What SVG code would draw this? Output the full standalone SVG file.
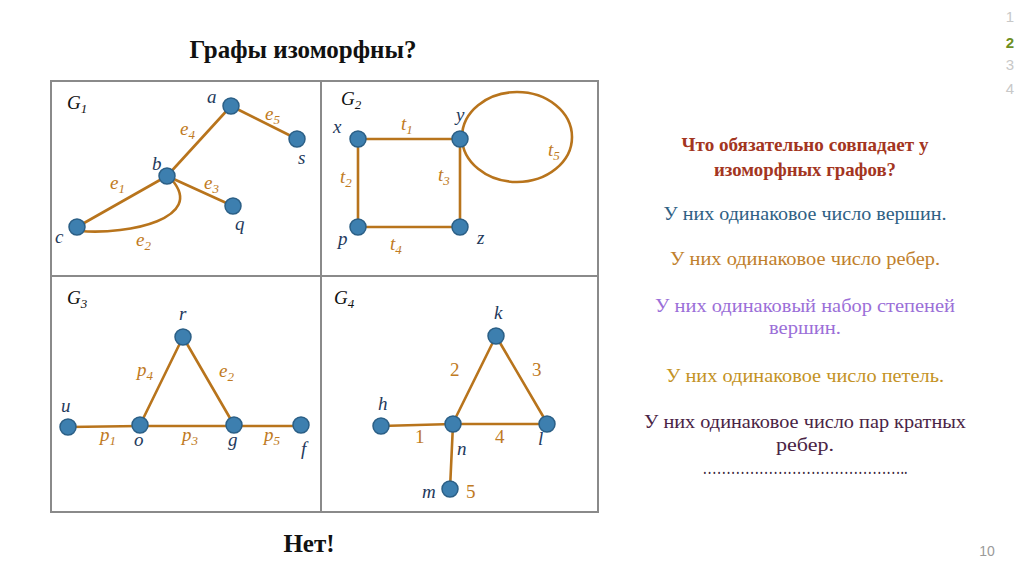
<svg xmlns="http://www.w3.org/2000/svg" width="1024" height="574" viewBox="0 0 1024 574">
<style>
.e{stroke:#B8741C;stroke-width:2.6;fill:none;stroke-linecap:round}
.n{fill:#3D7FAF;stroke:#2B5F86;stroke-width:1.5}
.v{font-family:"Liberation Serif",serif;font-style:italic;font-size:19px;fill:#1F3A5C}
.l{font-family:"Liberation Serif",serif;font-style:italic;font-size:19px;fill:#C07A22}
.d{font-family:"Liberation Serif",serif;font-size:19px;fill:#C07A22}
.g{font-family:"Liberation Serif",serif;font-style:italic;font-size:19px;fill:#111}
.s{font-size:13px}
.t{font-family:"Liberation Serif",serif;font-weight:bold;fill:#111}
.r{font-family:"Liberation Serif",serif;font-size:19px;text-anchor:middle}
.pg{font-family:"Liberation Sans",sans-serif;font-size:15px;text-anchor:middle;fill:#C8C8C8}
</style>
<rect width="1024" height="574" fill="#fff"/>
<g id="frame" fill="none" stroke="#8A8A8A" stroke-width="2">
<rect x="51" y="81" width="547" height="431"/>
<line x1="321" y1="81" x2="321" y2="512"/>
<line x1="51" y1="276" x2="598" y2="276"/>
</g>
<text class="t" x="303" y="58" font-size="25" text-anchor="middle">Графы изоморфны?</text>
<text class="t" x="309" y="552" font-size="25" text-anchor="middle">Нет!</text>
<g id="connectors">
<line class="e" x1="231" y1="106" x2="167" y2="176"/>
<line class="e" x1="231" y1="106" x2="297" y2="139"/>
<line class="e" x1="167" y1="176" x2="233" y2="206"/>
<line class="e" x1="167" y1="176" x2="77" y2="227"/>
<path class="e" d="M80 231 C130 235 205 218 172 180"/>
<line class="e" x1="358" y1="139" x2="460" y2="139"/>
<line class="e" x1="358" y1="139" x2="358" y2="227"/>
<line class="e" x1="460" y1="139" x2="460" y2="227"/>
<line class="e" x1="358" y1="227" x2="460" y2="227"/>
<ellipse class="e" cx="517" cy="137" rx="55" ry="45"/>
<line class="e" x1="68" y1="427" x2="140" y2="426"/>
<line class="e" x1="140" y1="426" x2="234" y2="426"/>
<line class="e" x1="234" y1="426" x2="301" y2="426"/>
<line class="e" x1="140" y1="425" x2="183" y2="337"/>
<line class="e" x1="183" y1="337" x2="234" y2="425"/>
<line class="e" x1="381" y1="426" x2="453" y2="424"/>
<line class="e" x1="453" y1="424" x2="547" y2="424"/>
<line class="e" x1="453" y1="423" x2="496" y2="336"/>
<line class="e" x1="496" y1="336" x2="547" y2="423"/>
<line class="e" x1="453" y1="424" x2="450" y2="489"/>
</g>
<g id="G1">
<text class="g" x="67" y="109">G<tspan class="s" dy="4">1</tspan></text>
<g id="a"><circle class="n" cx="231" cy="106" r="8"/><text class="v" x="207" y="103">a</text></g>
<g id="s"><circle class="n" cx="297" cy="139" r="8"/><text class="v" x="298" y="164">s</text></g>
<g id="b"><circle class="n" cx="167" cy="176" r="8"/><text class="v" x="152" y="170">b</text></g>
<g id="q"><circle class="n" cx="233" cy="206" r="8"/><text class="v" x="235" y="230">q</text></g>
<g id="c"><circle class="n" cx="77" cy="227" r="8"/><text class="v" x="55" y="243">c</text></g>
<text class="l" x="180" y="135">e<tspan class="s" dy="4">4</tspan></text>
<text class="l" x="265" y="120">e<tspan class="s" dy="4">5</tspan></text>
<text class="l" x="110" y="189">e<tspan class="s" dy="4">1</tspan></text>
<text class="l" x="204" y="189">e<tspan class="s" dy="4">3</tspan></text>
<text class="l" x="136" y="246">e<tspan class="s" dy="4">2</tspan></text>
</g>
<g id="G2">
<text class="g" x="341" y="105">G<tspan class="s" dy="4">2</tspan></text>
<g id="x"><circle class="n" cx="358" cy="139" r="8"/><text class="v" x="333" y="133">x</text></g>
<g id="y"><circle class="n" cx="460" cy="139" r="8"/><text class="v" x="456" y="121">y</text></g>
<g id="p"><circle class="n" cx="358" cy="227" r="8"/><text class="v" x="338" y="245">p</text></g>
<g id="z"><circle class="n" cx="460" cy="227" r="8"/><text class="v" x="477" y="244">z</text></g>
<text class="l" x="401" y="130">t<tspan class="s" dy="4">1</tspan></text>
<text class="l" x="340" y="183">t<tspan class="s" dy="4">2</tspan></text>
<text class="l" x="438" y="181">t<tspan class="s" dy="4">3</tspan></text>
<text class="l" x="390" y="250">t<tspan class="s" dy="4">4</tspan></text>
<text class="l" x="548" y="156">t<tspan class="s" dy="4">5</tspan></text>
</g>
<g id="G3">
<text class="g" x="67" y="304">G<tspan class="s" dy="4">3</tspan></text>
<g id="r"><circle class="n" cx="183" cy="337" r="8"/><text class="v" x="179" y="320">r</text></g>
<g id="u"><circle class="n" cx="68" cy="427" r="8"/><text class="v" x="61" y="412">u</text></g>
<g id="o"><circle class="n" cx="140" cy="425" r="8"/><text class="v" x="134" y="446">o</text></g>
<g id="gv"><circle class="n" cx="234" cy="425" r="8"/><text class="v" x="228" y="446">g</text></g>
<g id="f"><circle class="n" cx="301" cy="425" r="8"/><text class="v" x="301" y="455">f</text></g>
<text class="l" x="137" y="376">p<tspan class="s" dy="4">4</tspan></text>
<text class="l" x="219" y="377">e<tspan class="s" dy="4">2</tspan></text>
<text class="l" x="100" y="441">p<tspan class="s" dy="4">1</tspan></text>
<text class="l" x="182" y="441">p<tspan class="s" dy="4">3</tspan></text>
<text class="l" x="264" y="441">p<tspan class="s" dy="4">5</tspan></text>
</g>
<g id="G4">
<text class="g" x="334" y="304">G<tspan class="s" dy="4">4</tspan></text>
<g id="k"><circle class="n" cx="496" cy="336" r="8"/><text class="v" x="494" y="319">k</text></g>
<g id="h"><circle class="n" cx="381" cy="426" r="8"/><text class="v" x="378" y="410">h</text></g>
<g id="nn"><circle class="n" cx="453" cy="424" r="8"/><text class="v" x="457" y="455">n</text></g>
<g id="lv"><circle class="n" cx="547" cy="424" r="8"/><text class="v" x="538" y="445">l</text></g>
<g id="m"><circle class="n" cx="450" cy="489" r="8"/><text class="v" x="422" y="498">m</text></g>
<text class="d" x="450" y="376">2</text>
<text class="d" x="532" y="376">3</text>
<text class="d" x="415" y="443">1</text>
<text class="d" x="495" y="443">4</text>
<text class="d" x="466" y="498">5</text>
</g>
<g id="notes">
<text class="r" x="805" y="151" font-size="18" font-weight="bold" fill="#A33521" textLength="247" lengthAdjust="spacingAndGlyphs">Что обязательно совпадает у</text>
<text class="r" x="805" y="176" font-size="18" font-weight="bold" fill="#A33521" textLength="182" lengthAdjust="spacingAndGlyphs">изоморфных графов?</text>
<text class="r" x="805" y="220" fill="#2F6184" textLength="283" lengthAdjust="spacingAndGlyphs">У них одинаковое число вершин.</text>
<text class="r" x="805" y="265" fill="#C0802C" textLength="270" lengthAdjust="spacingAndGlyphs">У них одинаковое число ребер.</text>
<text class="r" x="805" y="312" fill="#9B6FD8" textLength="300" lengthAdjust="spacingAndGlyphs">У них одинаковый набор степеней</text>
<text class="r" x="805" y="334" fill="#9B6FD8" textLength="72" lengthAdjust="spacingAndGlyphs">вершин.</text>
<text class="r" x="805" y="382" fill="#C49325" textLength="278" lengthAdjust="spacingAndGlyphs">У них одинаковое число петель.</text>
<text class="r" x="805" y="428" fill="#4A2445" textLength="322" lengthAdjust="spacingAndGlyphs">У них одинаковое число пар кратных</text>
<text class="r" x="805" y="451" fill="#4A2445" textLength="58" lengthAdjust="spacingAndGlyphs">ребер.</text>
<text class="r" x="805" y="474" fill="#3A1E3A" textLength="205" lengthAdjust="spacingAndGlyphs">……………………………………..</text>
</g>
<g id="pages">
<text class="pg" x="1010" y="22">1</text>
<text class="pg" x="1010" y="48" font-weight="bold" style="fill:#6E8F1F">2</text>
<text class="pg" x="1010" y="70">3</text>
<text class="pg" x="1010" y="94">4</text>
<text x="987" y="556" font-family="Liberation Sans,sans-serif" font-size="14" fill="#9A9A9A" text-anchor="middle">10</text>
</g>
</svg>
